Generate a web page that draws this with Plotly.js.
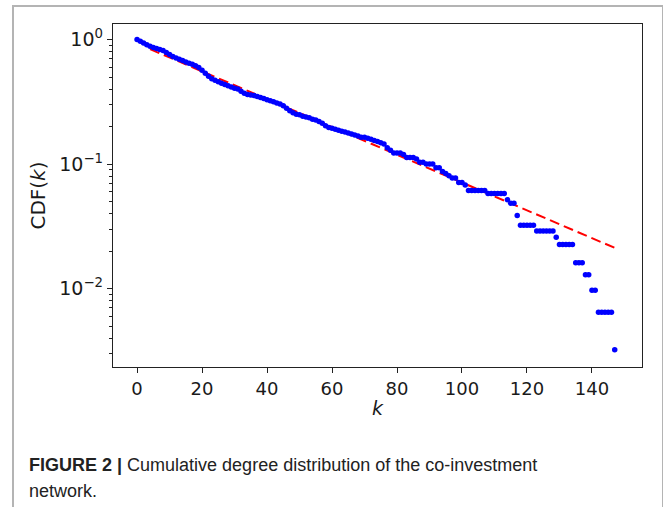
<!DOCTYPE html>
<html>
<head>
<meta charset="utf-8">
<script src="https://cdn.plot.ly/plotly-3.0.1.min.js"></script>
<style>
  html, body { margin: 0; padding: 0; background: #ffffff; }
  #wrap { position: relative; width: 663px; height: 507px; overflow: hidden; }
  #chart { position: absolute; left: 0; top: 0; width: 663px; height: 507px; }
  #frame { position: absolute; left: 12px; top: 5px; width: 648px; height: 600px;
           border: 2px solid #b4b4b4; border-bottom: none; pointer-events: none; z-index: 5; }
</style>
</head>
<body>
<div id="wrap">
  <div id="chart"></div>
  <div id="frame"></div>
</div>
<script>
// Degree k (0..147)
const degreeK = [
  0,1,2,3,4,5,6,7,8,9,10,11,12,13,14,15,16,17,18,19,
  20,21,22,23,24,25,26,27,28,29,30,31,32,33,34,35,36,37,38,39,
  40,41,42,43,44,45,46,47,48,49,50,51,52,53,54,55,56,57,58,59,
  60,61,62,63,64,65,66,67,68,69,70,71,72,73,74,75,76,77,78,79,
  80,81,82,83,84,85,86,87,88,89,90,91,92,93,94,95,96,97,98,99,
  100,101,102,103,104,105,106,107,108,109,110,111,112,113,114,115,116,117,118,119,
  120,121,122,123,124,125,126,127,128,129,130,131,132,133,134,135,136,137,138,139,
  140,141,142,143,144,145,146,147
];
// Number of nodes with degree >= k
const nodesAtLeastK = [
  310,300,291,282,274,268,263,258,253,244,235,227,220,215,210,205,200,196,191,185,
  176,166,157,150,146,142,138,135,132,129,126,124,119,115,112,111,110,108,106,104,
  102,100,98,96,94,91,87,83,80,78,77,75,74,73,71,70,68,66,63,61,
  60,59,58,57,56,55,54,53,52,51,51,50,49,48,47,46,45,42,40,38,
  38,38,37,35,35,35,34,32,32,31,31,31,29,29,27,26,25,24,24,22,
  22,21,19,19,19,19,19,19,18,18,18,18,18,18,16,15,15,12,10,10,
  10,10,10,9,9,9,9,9,9,8,7,7,7,7,7,5,5,5,4,4,
  3,3,2,2,2,2,2,1
];
const totalNodes = 310;
const cdfValues = nodesAtLeastK.map(c => c / totalNodes);

// Exponential fit line (red dashed) endpoints
const fitK = [4, 148];
const fitCDF = [0.838, 0.0207];

const xTickVals = [0, 20, 40, 60, 80, 100, 120, 140];
const yTickVals = [1, 0.1, 0.01];
const yTickText = ['10<sup>0</sup>', '10<sup>\u22121</sup>', '10<sup>\u22122</sup>'];
const yMinorVals = [0.003,0.004,0.005,0.006,0.007,0.008,0.009,
                    0.02,0.03,0.04,0.05,0.06,0.07,0.08,0.09,
                    0.2,0.3,0.4,0.5,0.6,0.7,0.8,0.9];

const captionBold = 'FIGURE 2 |';
const captionLine1 = 'Cumulative degree distribution of the co-investment';
const captionLine2 = 'network.';

const M = {l: 113, r: 21, t: 24, b: 140};
const W = 663, H = 507;
const pw = W - M.l - M.r, ph = H - M.t - M.b;
const px = x => (x - M.l) / pw;
const py = y => (H - M.b - y) / ph;

const font = 'DejaVu Sans, sans-serif';
const capFont = 'Liberation Sans, Arial, sans-serif';

const traces = [
  {
    x: fitK, y: fitCDF, type: 'scatter', mode: 'lines',
    line: {color: '#ff0000', width: 2, dash: '10px,5px'},
    hoverinfo: 'skip', showlegend: false
  },
  {
    x: degreeK, y: cdfValues, type: 'scatter', mode: 'markers',
    marker: {color: '#0000ff', size: 5.5, line: {width: 0}},
    showlegend: false
  }
];

const layout = {
  width: W, height: H,
  margin: M,
  paper_bgcolor: '#ffffff', plot_bgcolor: '#ffffff',
  showlegend: false,
  font: {family: font, color: '#1a1a1a'},
  xaxis: {
    range: [-7.4, 155.4],
    tickmode: 'array', tickvals: xTickVals,
    ticks: 'outside', ticklen: 5, tickwidth: 1, tickcolor: '#222',
    showline: true, linecolor: '#222', linewidth: 1.2, mirror: true,
    showgrid: false, zeroline: false,
    tickfont: {family: font, size: 18, color: '#1a1a1a'},
    title: {text: '<i>k</i>', font: {family: font, size: 19, color: '#1a1a1a'}, standoff: 4}
  },
  yaxis: {
    type: 'log',
    range: [-2.63, 0.125],
    tickmode: 'array', tickvals: yTickVals, ticktext: yTickText,
    ticks: 'outside', ticklen: 5, tickwidth: 1, tickcolor: '#222',
    minor: {tickmode: 'array', tickvals: yMinorVals, ticks: 'outside', ticklen: 3, tickwidth: 1, tickcolor: '#222', showgrid: false},
    showline: true, linecolor: '#222', linewidth: 1.2, mirror: true,
    showgrid: false, zeroline: false,
    tickfont: {family: font, size: 19, color: '#1a1a1a'},
    title: {text: 'CDF(<i>k</i>)', font: {family: font, size: 20, color: '#1a1a1a'}, standoff: 8}
  },
  annotations: [
    {
      xref: 'paper', yref: 'paper', x: px(27), y: py(465),
      xanchor: 'left', yanchor: 'middle', showarrow: false,
      text: '<b>' + captionBold + '</b> ' + captionLine1,
      font: {family: capFont, size: 18, color: '#222'}
    },
    {
      xref: 'paper', yref: 'paper', x: px(27), y: py(491),
      xanchor: 'left', yanchor: 'middle', showarrow: false,
      text: captionLine2,
      font: {family: capFont, size: 18, color: '#222'}
    }
  ]
};

Plotly.newPlot('chart', traces, layout, {displayModeBar: false, staticPlot: true});
</script>
</body>
</html>
